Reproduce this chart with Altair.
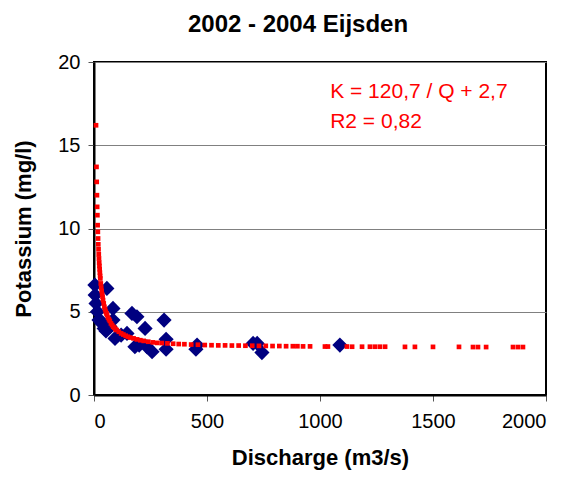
import altair as alt
import pandas as pd

# Measured data (diamonds)
obs_q = [4, 5, 9, 15, 22, 26, 35, 45, 53, 57, 71, 84, 84, 93, 120, 146, 168, 181,
         190, 200, 226, 234, 257, 310, 319, 319, 451, 456, 704, 722, 743, 1088]
obs_k = [6.6, 6.0, 5.5, 5.0, 4.5, 4.5, 4.3, 4.0, 3.85, 6.4, 4.1, 5.2, 4.5, 3.4, 3.6, 3.7, 4.9, 2.9,
         4.7, 3.0, 4.0, 2.9, 2.6, 4.5, 3.35, 2.75, 2.75, 3.0, 3.1, 3.1, 2.55, 3.0]

# Model values (red dots)
fit_q = [8.9, 11, 12, 13, 14, 15, 16, 17, 18, 19, 20, 21, 22, 23, 24, 25, 26, 27, 28, 30,
         32, 34, 36, 38, 40, 43, 46, 49, 52, 55, 58, 62, 66, 70, 75, 80, 85, 90, 95, 100,
         110, 120, 130, 140, 150, 160, 175, 190, 205, 220, 240, 260, 280, 300, 325, 350,
         375, 400, 430, 460, 490, 520, 550, 580, 610, 640, 670, 700, 730, 760, 790, 820,
         850, 880, 900, 925, 956, 1022, 1035, 1119, 1142, 1186, 1221, 1243, 1265, 1288,
         1376, 1420, 1500, 1615, 1677, 1699, 1735, 1854, 1876, 1898]
fit_k = [16.2, 13.7, 12.8, 12.0, 11.3, 10.8, 10.2, 9.8, 9.4, 9.05, 8.75, 8.45, 8.2, 7.95,
         7.75, 7.55, 7.35, 7.15, 7.0, 6.7, 6.45, 6.25, 6.05, 5.9, 5.7, 5.5, 5.3, 5.15, 5.0,
         4.9, 4.8, 4.65, 4.55, 4.45, 4.3, 4.2, 4.1, 4.05, 3.95, 3.9, 3.8, 3.7, 3.63, 3.56,
         3.5, 3.45, 3.4, 3.34, 3.29, 3.25, 3.2, 3.16, 3.13, 3.12, 3.1, 3.08, 3.06, 3.05,
         3.03, 3.02, 3.0, 2.99, 2.98, 2.98, 2.97, 2.97, 2.96, 2.96, 2.95, 2.95, 2.94, 2.94,
         2.93, 2.93, 2.93, 2.92, 2.92, 2.91, 2.91, 2.91, 2.9, 2.9, 2.9, 2.9, 2.9, 2.9,
         2.89, 2.89, 2.89, 2.89, 2.88, 2.88, 2.88, 2.88, 2.88, 2.88]

ann_text = ["K = 120,7 / Q + 2,7", "R2 = 0,82"]
ann_q = [1045, 1045]
ann_k = [18.2, 16.4]

FONT = "Liberation Sans"

obs = pd.DataFrame({"Q": obs_q, "K": obs_k})
fit = pd.DataFrame({"Q": fit_q, "K": fit_k})
ann = pd.DataFrame({"Q": ann_q, "K": ann_k, "t": ann_text})

xs = alt.Scale(domain=[0, 2000], nice=False)
ys = alt.Scale(domain=[0, 20], nice=False)

xax = alt.Axis(values=[0, 500, 1000, 1500, 2000], format="d", grid=False,
               title="Discharge (m3/s)",
               tickSize=6, tickColor="#555555", domainColor="black", domainWidth=2,
               labelFontSize=20, labelColor="black", labelPadding=10, labelFont=FONT,
               titleFontSize=22, titleFont=FONT, titleFontWeight="bold", titleColor="black",
               titlePadding=16)
yax = alt.Axis(values=[0, 5, 10, 15, 20], grid=True, gridColor="#808080", gridWidth=1,
               title="Potassium (mg/l)", tickSize=6, tickColor="#555555",
               domainColor="black", domainWidth=2,
               labelFontSize=20, labelColor="black", labelPadding=8, labelFont=FONT,
               titleFontSize=22, titleFont=FONT, titleFontWeight="bold", titleColor="black",
               titlePadding=22)

pts = alt.Chart(obs).mark_point(shape="diamond", filled=True, color="#000080",
                                opacity=1, size=230).encode(
    x=alt.X("Q:Q", scale=xs, axis=xax),
    y=alt.Y("K:Q", scale=ys, axis=yax),
)

curve = alt.Chart(fit).mark_point(shape="square", filled=True, color="#ff0000",
                                  opacity=1, size=22).encode(
    x=alt.X("Q:Q", scale=xs),
    y=alt.Y("K:Q", scale=ys),
)

txt = alt.Chart(ann).mark_text(align="left", baseline="middle", color="#ff0000",
                               fontSize=21, font=FONT).encode(
    x=alt.X("Q:Q", scale=xs),
    y=alt.Y("K:Q", scale=ys),
    text="t:N",
)

chart = alt.layer(pts, curve, txt).properties(
    width=452, height=333,
    title=alt.TitleParams("2002 - 2004 Eijsden", fontSize=24, font=FONT,
                          fontWeight="bold", color="black", anchor="middle",
                          offset=15, dx=-22),
    autosize=alt.AutoSizeParams(type="none"),
    padding={"left": 86, "top": 54, "right": 17, "bottom": 76},
    background="white",
).configure_view(stroke="black", strokeWidth=2)

chart.save("out.html", embed_options={"renderer": "svg", "actions": False})
